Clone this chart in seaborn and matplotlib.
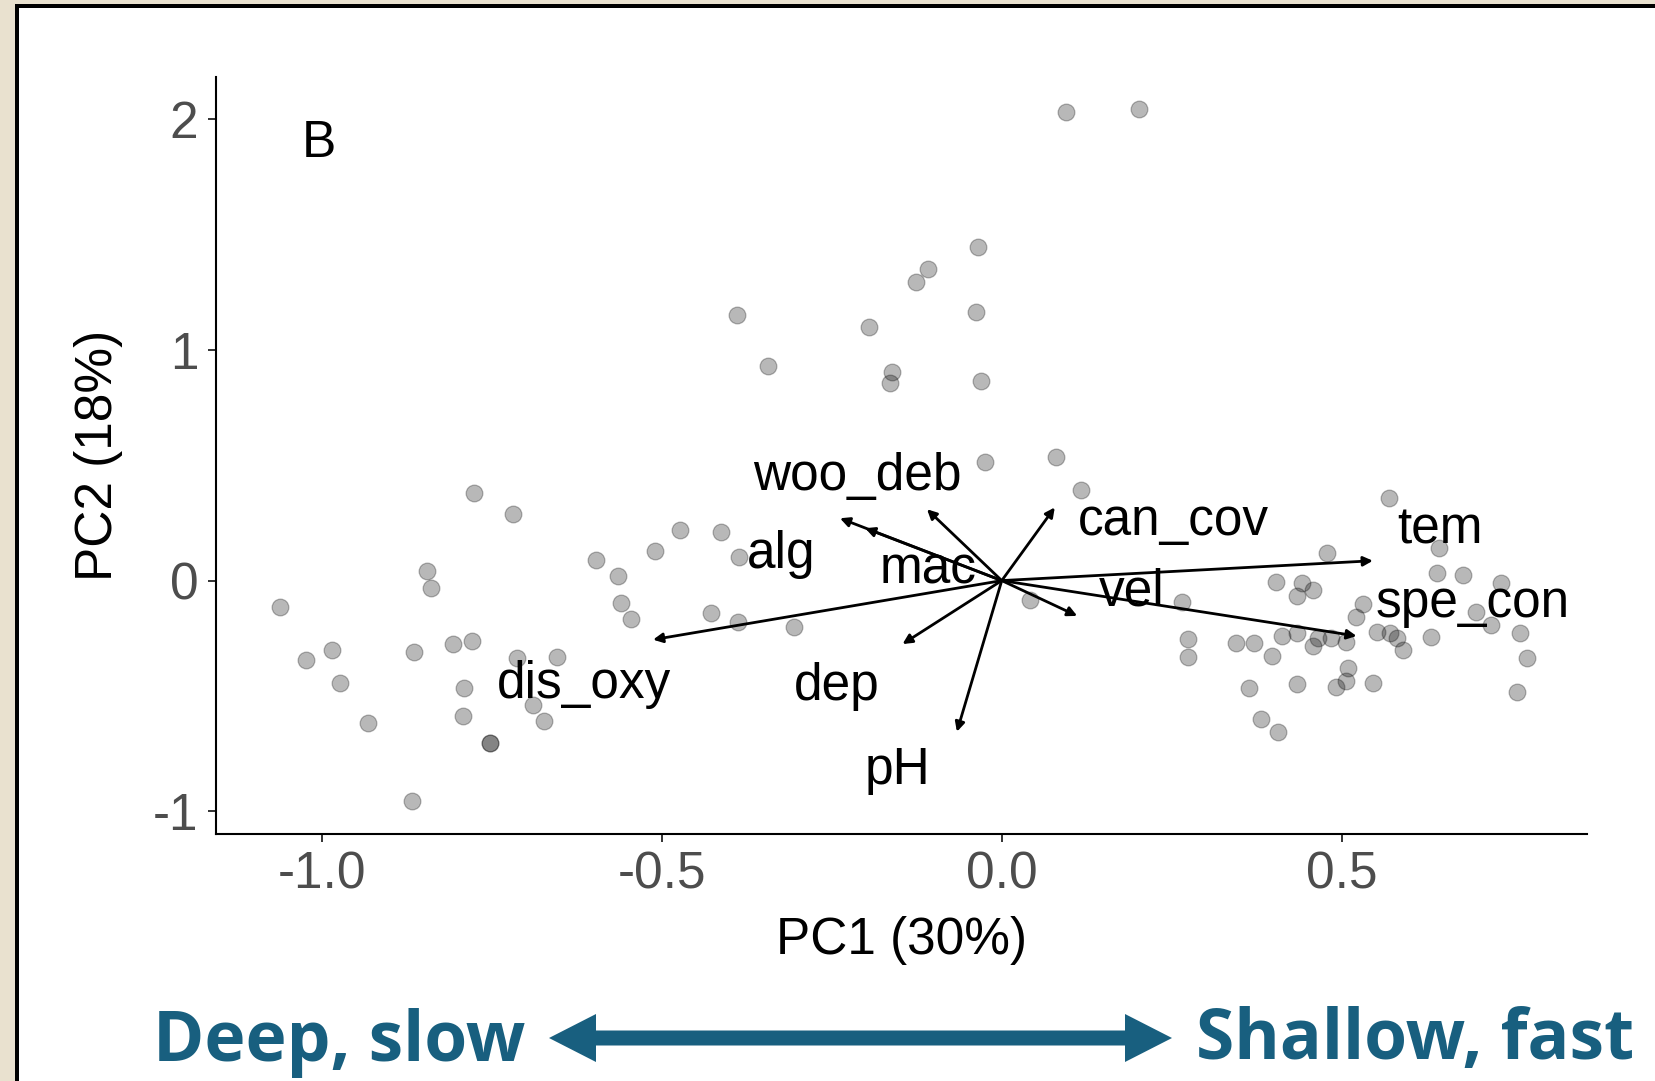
import matplotlib
matplotlib.use("Agg")
import matplotlib.pyplot as plt
from matplotlib.patches import Rectangle, Polygon
import pandas as pd
import seaborn as sns

# Site scores on the first two principal components
pc1 = [-1.062, -1.024, -0.985, -0.974, -0.932, -0.868, -0.865, -0.845, -0.840,
       -0.808, -0.779, -0.776, -0.791, -0.792, -0.753, -0.753, -0.719, -0.713,
       -0.689, -0.673, -0.655, -0.597, -0.565, -0.560, -0.546, -0.510, -0.473,
       -0.413, -0.428, -0.388, -0.386, -0.306,
       0.095, 0.202, -0.035, -0.108, -0.126, -0.390, -0.038, -0.195, -0.344,
       -0.162, -0.164, -0.030, -0.024, 0.080, 0.117, 0.041,
       0.265, 0.274, 0.274, 0.345, 0.371, 0.364, 0.381, 0.407, 0.398, 0.403,
       0.412, 0.434, 0.434, 0.435, 0.441, 0.458, 0.458, 0.465, 0.478, 0.485,
       0.491, 0.506, 0.507, 0.510, 0.521, 0.532, 0.546, 0.552, 0.570, 0.571,
       0.581, 0.591, 0.632, 0.640, 0.643, 0.678, 0.697, 0.720, 0.735, 0.763,
       0.772, 0.758]
pc2 = [-0.113, -0.344, -0.301, -0.445, -0.618, -0.954, -0.311, 0.041, -0.033,
       -0.276, -0.260, 0.378, -0.467, -0.587, -0.702, -0.702, 0.290, -0.337,
       -0.539, -0.607, -0.330, 0.089, 0.020, -0.098, -0.168, 0.128, 0.220,
       0.212, -0.142, -0.178, 0.104, -0.200,
       2.029, 2.042, 1.447, 1.350, 1.292, 1.151, 1.163, 1.100, 0.930,
       0.905, 0.857, 0.865, 0.515, 0.534, 0.393, -0.084,
       -0.091, -0.254, -0.330, -0.269, -0.272, -0.467, -0.601, -0.655, -0.327,
       -0.005, -0.240, -0.067, -0.226, -0.448, -0.009, -0.041, -0.283, -0.250,
       0.121, -0.250, -0.462, -0.434, -0.265, -0.380, -0.159, -0.101, -0.442,
       -0.221, 0.357, -0.228, -0.250, -0.301, -0.246, 0.034, 0.140, 0.024,
       -0.135, -0.192, -0.012, -0.228, -0.337, -0.481]

# Environmental variable loadings (arrow tips)
variables = ["dis_oxy", "woo_deb", "alg", "mac", "can_cov",
             "tem", "spe_con", "vel", "dep", "pH"]
load_pc1 = [-0.513, -0.110, -0.238, -0.201, 0.078, 0.546, 0.522, 0.111, -0.146, -0.066]
load_pc2 = [-0.256, 0.309, 0.270, 0.227, 0.317, 0.086, -0.240, -0.153, -0.275, -0.655]

x_ticks = [-1.0, -0.5, 0.0, 0.5]
x_tick_labels = ["-1.0", "-0.5", "0.0", "0.5"]
y_ticks = [-1, 0, 1, 2]
y_tick_labels = ["-1", "0", "1", "2"]
x_title = "PC1 (30%)"
y_title = "PC2 (18%)"
panel_tag = "B"
gradient_left = "Deep, slow"
gradient_right = "Shallow, fast"

# Where each variable name sits (data coordinates, text centre)
label_pos = {
    "dis_oxy": (-0.615, -0.452), "woo_deb": (-0.2125, 0.450),
    "alg": (-0.324, 0.111), "mac": (-0.108, 0.046),
    "can_cov": (0.253, 0.255), "tem": (0.645, 0.219),
    "spe_con": (0.693, -0.099), "vel": (0.191, -0.048),
    "dep": (-0.243, -0.457), "pH": (-0.153, -0.821),
}

BEIGE = "#E9E1CF"
TEAL = "#185F7F"
TICK_GREY = "#4D4D4D"

sns.set_style("ticks")
plt.rcParams["font.family"] = ["Liberation Sans", "DejaVu Sans"]
plt.rcParams["axes.unicode_minus"] = False

W, H = 1656, 1081
fig = plt.figure(figsize=(W / 100, H / 100), dpi=100)
fig.patch.set_facecolor(BEIGE)


def px(x, y):
    """Figure-pixel position (origin top-left) to figure fraction."""
    return (x / W, 1 - y / H)


# Framed white panel
fig.add_artist(Rectangle((15 / W, -0.1), 1.2, 1 - 4 / H + 0.1,
                         transform=fig.transFigure, facecolor="black",
                         edgecolor="none", zorder=-20))
fig.add_artist(Rectangle((19 / W, -0.1), 1.2, 1 - 8 / H + 0.1,
                         transform=fig.transFigure, facecolor="white",
                         edgecolor="none", zorder=-19))

ax = fig.add_axes([216 / W, 1 - 834 / H, (1587 - 216) / W, (834 - 77) / H])
ax.patch.set_alpha(0)

scores = pd.DataFrame({"PC1": pc1, "PC2": pc2})
sns.scatterplot(data=scores, x="PC1", y="PC2", ax=ax, color="black",
                alpha=0.28, s=145, edgecolor="black", linewidth=0.9,
                legend=False, zorder=2)

# Loading arrows
for name, lx, ly in zip(variables, load_pc1, load_pc2):
    ax.annotate("", xy=(lx, ly), xytext=(0, 0),
                arrowprops=dict(arrowstyle="-|>", color="black", lw=2.0,
                                mutation_scale=14, shrinkA=0, shrinkB=0),
                zorder=3)
    tx, ty = label_pos[name]
    ax.text(tx, ty, name, fontsize=37, ha="center", va="center",
            color="black", zorder=4)

ax.text(-1.004, 1.894, panel_tag, fontsize=37, ha="center", va="center",
        color="black")

ax.set_xlim(-1.156, 0.861)
ax.set_ylim(-1.098, 2.182)
ax.set_xticks(x_ticks)
ax.set_xticklabels(x_tick_labels)
ax.set_yticks(y_ticks)
ax.set_yticklabels(y_tick_labels)
ax.tick_params(axis="both", labelsize=37, labelcolor=TICK_GREY,
               color="#333333", length=5.8, width=1.4)
ax.tick_params(axis="x", pad=6)
ax.tick_params(axis="y", pad=7)
sns.despine(ax=ax)
for side in ("left", "bottom"):
    ax.spines[side].set_linewidth(1.5)
    ax.spines[side].set_color("black")

ax.set_xlabel(x_title, fontsize=37, color="black")
ax.set_ylabel(y_title, fontsize=37, color="black")
ax.xaxis.set_label_coords(0.5, (834 - 916) / (834 - 77))
ax.xaxis.label.set_va("top")
ax.yaxis.set_label_coords((99 - 216) / (1587 - 216), 0.5)
ax.yaxis.label.set_va("center")

# Gradient annotation below the panel
fig.text(*px(153, 1061), gradient_left, fontsize=50, fontweight="bold",
         family=["Open Sans", "DejaVu Sans"], color=TEAL, ha="left",
         va="baseline")
fig.text(*px(1196, 1059), gradient_right, fontsize=50, fontweight="bold",
         family=["Open Sans", "DejaVu Sans"], color=TEAL, ha="left",
         va="baseline")

# Double-headed arrow between the two labels, as one solid shape
left_tip, right_tip, cy = 549, 1172, 1038
head_len, head_half, shaft_half = 47, 24, 7.5
outline = [
    (left_tip, cy),
    (left_tip + head_len, cy - head_half),
    (left_tip + head_len, cy - shaft_half),
    (right_tip - head_len, cy - shaft_half),
    (right_tip - head_len, cy - head_half),
    (right_tip, cy),
    (right_tip - head_len, cy + head_half),
    (right_tip - head_len, cy + shaft_half),
    (left_tip + head_len, cy + shaft_half),
    (left_tip + head_len, cy + head_half),
]
fig.add_artist(Polygon([px(x, y) for x, y in outline], closed=True,
                       transform=fig.transFigure, facecolor=TEAL,
                       edgecolor="none"))

fig.savefig("out.png", dpi=100, facecolor=BEIGE)
